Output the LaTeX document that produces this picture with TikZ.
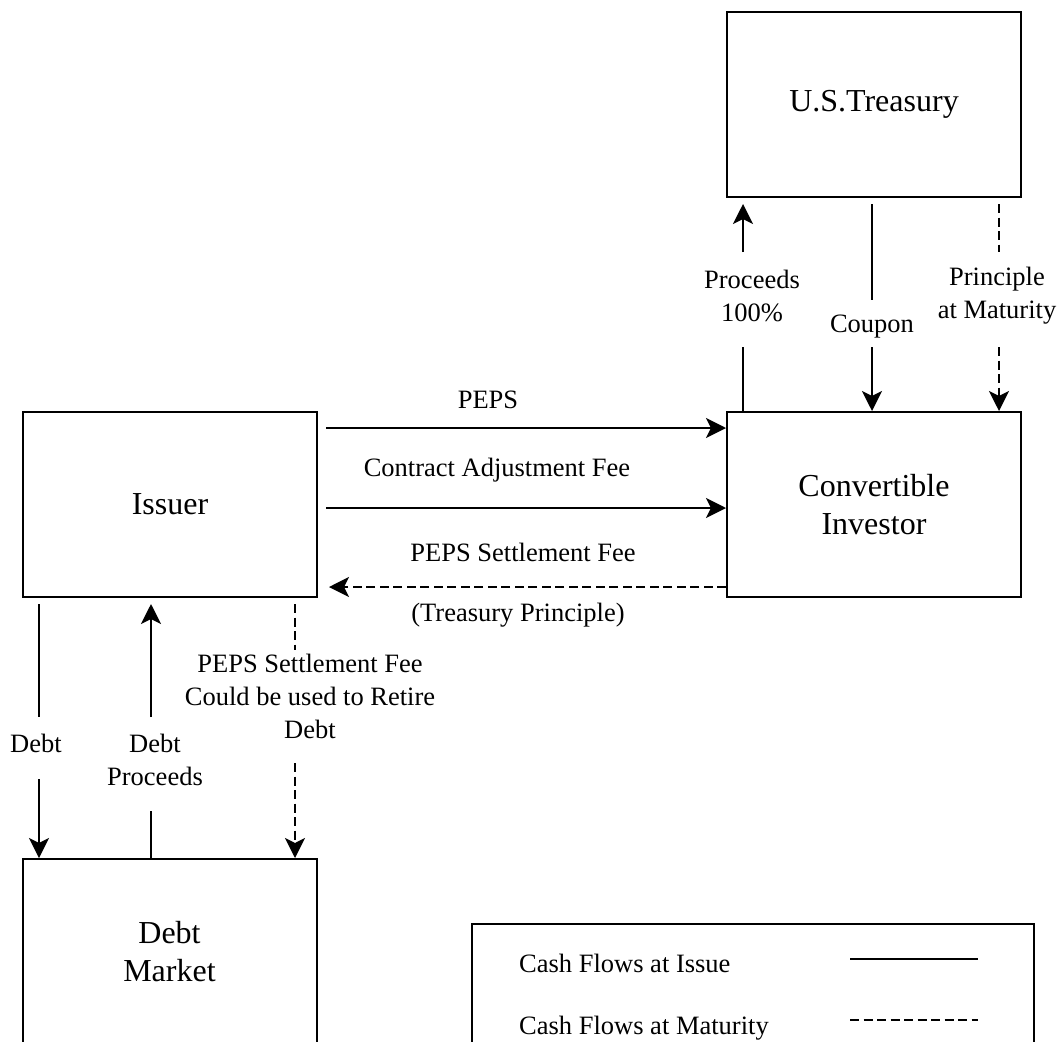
\documentclass[tikz,border=0pt]{standalone}
\usepackage{fontspec}
\setmainfont{Liberation Serif}
\usetikzlibrary{arrows.meta}
\begin{document}
\begin{tikzpicture}[x=1pt,y=-1pt,
  box/.style={draw,line width=2pt,minimum width=294pt,minimum height=185pt,
    inner sep=0pt,align=center,font=\fontsize{32pt}{38pt}\selectfont},
  lbl/.style={inner sep=0pt,align=center,font=\fontsize{26.5pt}{33pt}\selectfont},
  flow/.style={line width=2pt},
  matur/.style={line width=2pt,dash pattern=on 9pt off 4.5pt},
  tip/.style={-{Stealth[length=20pt,width=20pt,inset=5pt]}}]

\clip (0,0) rectangle (1057,1041);

% parties
\node[box] (tre) at (874,104.5) {U.S.Treasury};
\node[box] (inv) at (874,504.5) {Convertible\\Investor};
\node[box] (iss) at (170,504.5) {Issuer};
\node[box] (dm)  at (169.5,951.5) {Debt\\Market};

% Issuer <-> Convertible Investor
\coordinate (a1) at (326,428);
\coordinate (a2) at (326,508);
\coordinate (a3) at (329,587);
\draw[flow,tip] (a1) -- (a1 -| inv.west);
\draw[flow,tip] (a2) -- (a2 -| inv.west);
\draw[matur,tip] (a3 -| inv.west) -- (a3);
\node[lbl] (lpeps) at (488,400) {PEPS};
\node[lbl] (lcaf)  at (497,470) {Contract Adjustment Fee};
\node[lbl] (lsf)   at (523,552) {PEPS Settlement Fee};
\node[lbl] (ltp)   at (518,615) {(Treasury Principle)};

% Convertible Investor <-> U.S. Treasury
\coordinate (pr1) at (743,347);
\coordinate (pr2) at (743,252);
\draw[flow] (inv.north -| pr1) -- (pr1);
\draw[flow,tip,shorten >=6pt] (pr2) -- (tre.south -| pr2);
\node[lbl] (lpr) at (752,296) {Proceeds\\100\%};

\coordinate (cp1) at (872,300);
\coordinate (cp2) at (872,347);
\draw[flow,shorten <=6pt] (tre.south -| cp1) -- (cp1);
\draw[flow,tip] (cp2) -- (inv.north -| cp2);
\node[lbl] (lcp) at (872,327) {Coupon};

\coordinate (pm1) at (999,252);
\coordinate (pm2) at (999,347);
\draw[matur,shorten <=6pt] (tre.south -| pm1) -- (pm1);
\draw[matur,tip] (pm2) -- (inv.north -| pm2);
\node[lbl] (lpm) at (997,296) {Principle\\at Maturity};

% Issuer <-> Debt Market
\coordinate (d1) at (39,717);
\coordinate (d2) at (39,779);
\draw[flow,shorten <=6pt] (iss.south -| d1) -- (d1);
\draw[flow,tip] (d2) -- (dm.north -| d2);
\node[lbl] (ld) at (36,743) {Debt};

\coordinate (e1) at (151,811);
\coordinate (e2) at (151,717);
\draw[flow] (dm.north -| e1) -- (e1);
\draw[flow,tip,shorten >=6pt] (e2) -- (iss.south -| e2);
\node[lbl] (le) at (155,760) {Debt\\Proceeds};

\coordinate (f1) at (295,650);
\coordinate (f2) at (295,763);
\draw[matur,shorten <=6pt] (iss.south -| f1) -- (f1);
\draw[matur,tip] (f2) -- (dm.north -| f2);
\node[lbl] (lf) at (310,696) {PEPS Settlement Fee\\Could be used to Retire\\Debt};

% legend
\node[draw,line width=2pt,minimum width=562pt,minimum height=160pt,
  inner sep=0pt,anchor=north west] (leg) at (471,923) {};
\node[lbl,anchor=west] (lgi) at (519,963) {Cash Flows at Issue};
\node[lbl,anchor=west] (lgm) at (519,1028) {Cash Flows at Maturity};
\coordinate (ls1) at (850,959);
\coordinate (ls2) at (978,959);
\coordinate (lm1) at (850,1020);
\coordinate (lm2) at (978,1020);
\draw[flow] (ls1) -- (ls2);
\draw[matur] (lm1) -- (lm2);
\end{tikzpicture}
\end{document}
